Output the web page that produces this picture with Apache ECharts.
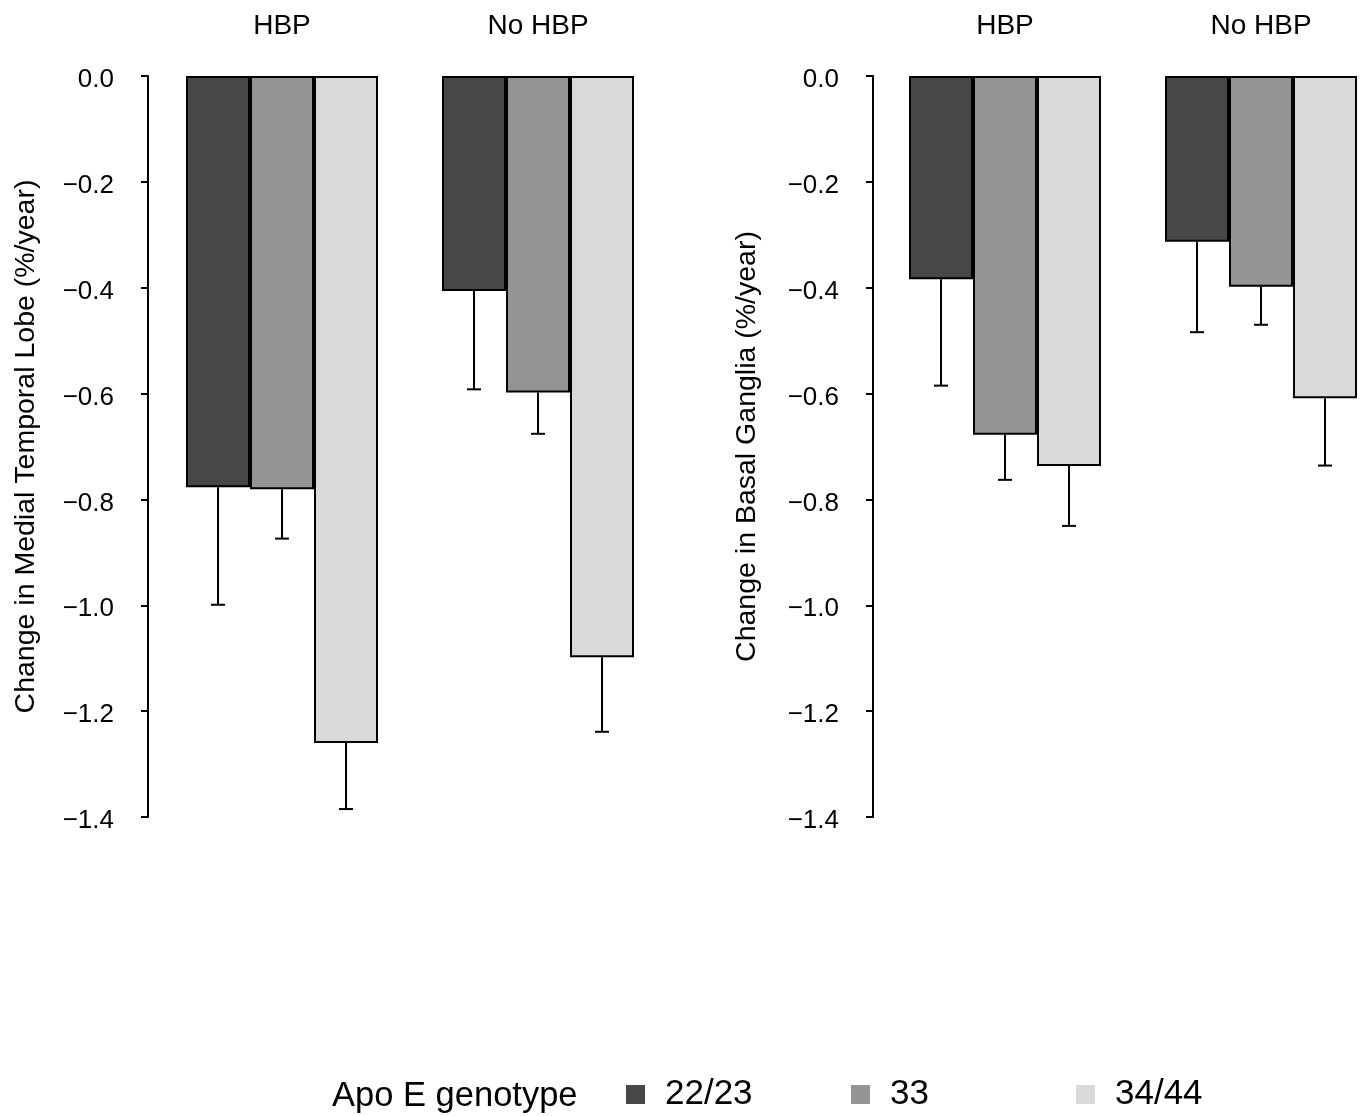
<!DOCTYPE html>
<html>
<head>
<meta charset="utf-8">
<script src="https://cdn.jsdelivr.net/npm/echarts@6/dist/echarts.min.js"></script>
<style>
html,body{margin:0;padding:0;background:#fff;}
#chart{width:1363px;height:1116px;}
</style>
</head>
<body>
<div id="chart"></div>
<script>
// ---- Data ----
const groups = ['HBP', 'No HBP'];
const genotypes = ['22/23', '33', '34/44'];
const yTicks = [0, -0.2, -0.4, -0.6, -0.8, -1.0, -1.2, -1.4];

// Medial temporal lobe: mean change (%/year) and error (SE)
const mtlMean2223 = [-0.777, -0.406];
const mtlMean33   = [-0.781, -0.598];
const mtlMean3444 = [-1.260, -1.098];
const mtlErr2223  = [0.222, 0.186];
const mtlErr33    = [0.093, 0.078];
const mtlErr3444  = [0.125, 0.141];

// Basal ganglia
const bgMean2223 = [-0.384, -0.313];
const bgMean33   = [-0.678, -0.398];
const bgMean3444 = [-0.737, -0.609];
const bgErr2223  = [0.201, 0.171];
const bgErr33    = [0.085, 0.072];
const bgErr3444  = [0.113, 0.127];

const colors = ['#474747', '#949494', '#d9d9d9'];
const FONT = 'Liberation Sans, Arial, Helvetica, sans-serif';

const chart = echarts.init(document.getElementById('chart'), null, {renderer: 'canvas'});

function fmt(v) {
  const s = Math.abs(v).toFixed(1);
  return '{t|' + (v < -1e-9 ? '\u2212' : '') + s + '}';
}

function makeAxes(gi, name, offset, nameGap) {
  const x = {
    type: 'category', gridIndex: gi, data: groups, position: 'top',
    axisLine: {show: false}, axisTick: {show: false},
    axisLabel: {fontSize: 28, color: '#000', fontFamily: FONT, margin: 36}
  };
  const y = {
    type: 'value', gridIndex: gi, min: -1.4, max: 0, interval: 0.2,
    offset: offset,
    name: name, nameLocation: 'middle', nameRotate: 90, nameGap: nameGap,
    nameTextStyle: {fontSize: 28.5, color: '#000', fontFamily: FONT},
    axisLine: {show: true, lineStyle: {color: '#000', width: 2}},
    axisTick: {show: true, length: 7, inside: false, lineStyle: {color: '#000', width: 2}},
    axisLabel: {
      color: '#000', margin: 34, formatter: fmt,
      rich: {t: {fontSize: 26, color: '#000', fontFamily: FONT, padding: [8, 0, 0, 0]}}
    },
    splitLine: {show: false}
  };
  return [x, y];
}

const axL = makeAxes(0, 'Change in Medial Temporal Lobe (%/year)', 6, 107);
const axR = makeAxes(1, 'Change in Basal Ganglia (%/year)', 4, 111);

function barSeries(gi, k, data) {
  return {
    type: 'bar', name: genotypes[k], xAxisIndex: gi, yAxisIndex: gi,
    data: data, barGap: '0%', barCategoryGap: '25%',
    itemStyle: {color: colors[k], borderColor: '#000', borderWidth: 2},
    emphasis: {disabled: true}, z: 2
  };
}

function errSeries(gi, k, means, errs) {
  const data = means.map((m, i) => [i, m, errs[i]]);
  return {
    type: 'custom', name: 'err' + gi + k, xAxisIndex: gi, yAxisIndex: gi,
    data: data, z: 5, silent: true,
    encode: {x: 0, y: 1},
    renderItem: function (params, api) {
      const ci = api.value(0), m = api.value(1), e = api.value(2);
      const p0 = api.coord([ci, m]);
      const p1 = api.coord([ci, m - e]);
      const band = api.size([1, 0])[0];
      const bw = band * 0.75 / 3;
      const x = p0[0] + (k - 1) * bw;
      const st = {stroke: '#000', lineWidth: 2};
      return {
        type: 'group',
        children: [
          {type: 'line', shape: {x1: x, y1: p0[1], x2: x, y2: p1[1]}, style: st},
          {type: 'line', shape: {x1: x - 7, y1: p1[1], x2: x + 7, y2: p1[1]}, style: st}
        ]
      };
    }
  };
}

const option = {
  backgroundColor: '#fff',
  animation: false,
  grid: [
    {left: 154, top: 76, width: 512, height: 741, outerBoundsMode: 'none', containLabel: false},
    {left: 877, top: 76, width: 512, height: 741, outerBoundsMode: 'none', containLabel: false}
  ],
  xAxis: [axL[0], axR[0]],
  yAxis: [axL[1], axR[1]],
  legend: {
    data: genotypes, left: 626, top: 1077, orient: 'horizontal', padding: 0,
    icon: 'rect', itemWidth: 19, itemHeight: 19, itemGap: 14,
    selectedMode: false,
    itemStyle: {borderWidth: 0},
    textStyle: {fontSize: 35, color: '#000', fontFamily: FONT, width: 172, padding: [0, 0, 0, 15], lineHeight: 20}
  },
  graphic: [
    {type: 'text', left: 332, top: 1079,
     style: {text: 'Apo E genotype', font: '34.5px ' + FONT, fill: '#000'}}
  ],
  series: [
    barSeries(0, 0, mtlMean2223), barSeries(0, 1, mtlMean33), barSeries(0, 2, mtlMean3444),
    barSeries(1, 0, bgMean2223), barSeries(1, 1, bgMean33), barSeries(1, 2, bgMean3444),
    errSeries(0, 0, mtlMean2223, mtlErr2223), errSeries(0, 1, mtlMean33, mtlErr33), errSeries(0, 2, mtlMean3444, mtlErr3444),
    errSeries(1, 0, bgMean2223, bgErr2223), errSeries(1, 1, bgMean33, bgErr33), errSeries(1, 2, bgMean3444, bgErr3444)
  ]
};
chart.setOption(option);
</script>
</body>
</html>
